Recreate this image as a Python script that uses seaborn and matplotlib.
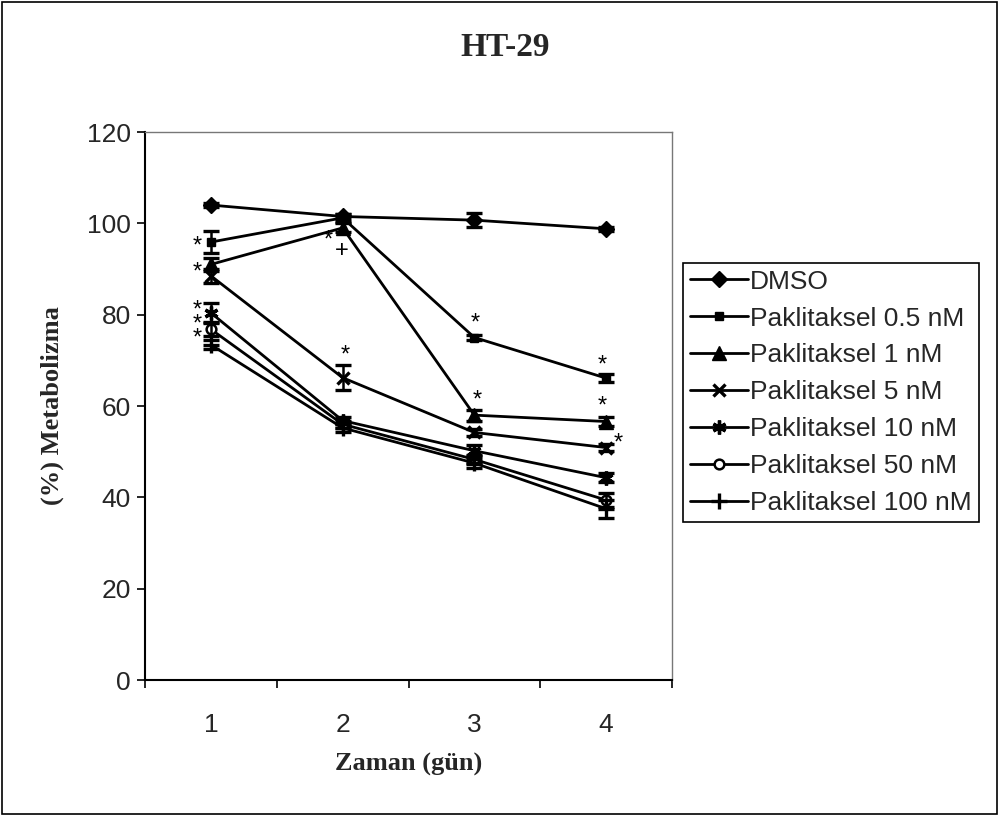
import matplotlib
matplotlib.use("Agg")
import matplotlib.pyplot as plt
import seaborn as sns
import pandas as pd
from matplotlib.patches import Rectangle
from matplotlib.ticker import FixedLocator, NullFormatter

# ---------------- data ----------------
days = [1, 2, 3, 4]
series_names = ["DMSO", "Paklitaksel 0.5 nM", "Paklitaksel 1 nM", "Paklitaksel 5 nM",
                "Paklitaksel 10 nM", "Paklitaksel 50 nM", "Paklitaksel 100 nM"]
dmso = [104.0, 101.5, 100.7, 98.8]
p05 = [95.9, 101.2, 75.0, 66.1]
p1 = [91.0, 99.0, 58.0, 56.6]
p5 = [88.5, 66.2, 54.2, 50.9]
p10 = [80.4, 56.8, 50.2, 44.3]
p50 = [76.8, 56.0, 48.3, 39.4]
p100 = [73.4, 55.2, 47.5, 37.5]

err_dmso = [0.5, 0.5, 1.5, 0.5]
err_p05 = [2.5, 0.8, 0.5, 0.8]
err_p1 = [1.5, 1.0, 1.2, 1.0]
err_p5 = [1.5, 2.7, 0.8, 0.8]
err_p10 = [2.2, 0.8, 1.2, 1.0]
err_p50 = [1.5, 0.8, 1.0, 1.5]
err_p100 = [1.0, 0.8, 1.0, 2.0]

sig_x = [0.90, 0.90, 0.90, 0.90, 0.90, 1.89, 1.99, 2.02, 3.01, 3.02, 3.97, 3.97, 4.09]
sig_y = [95.0, 89.3, 80.8, 77.8, 74.8, 96.2, 94.0, 71.0, 78.0, 61.2, 68.8, 59.8, 51.7]
sig_txt = ["*", "*", "*", "*", "*", "*", "+", "*", "*", "*", "*", "*", "*"]

x_label = "Zaman (gün)"
y_label = "(%) Metabolizma"
title = "HT-29"
y_ticks = [0, 20, 40, 60, 80, 100, 120]

values = [dmso, p05, p1, p5, p10, p50, p100]
errors = [err_dmso, err_p05, err_p1, err_p5, err_p10, err_p50, err_p100]

rows = []
for name, vals, errs in zip(series_names, values, errors):
    for d, v, e in zip(days, vals, errs):
        rows.append({"day": d, "value": v, "err": e, "series": name})
df = pd.DataFrame(rows)

# ---------------- style ----------------
sns.set_theme(style="white")
plt.rcParams["font.family"] = ["Liberation Sans", "DejaVu Sans"]

markers = {
    "DMSO": "D",
    "Paklitaksel 0.5 nM": "s",
    "Paklitaksel 1 nM": "^",
    "Paklitaksel 5 nM": "x",
    "Paklitaksel 10 nM": (6, 2, 0),
    "Paklitaksel 50 nM": "o",
    "Paklitaksel 100 nM": "+",
}
msizes = {"DMSO": 11, "Paklitaksel 0.5 nM": 8, "Paklitaksel 1 nM": 12,
          "Paklitaksel 5 nM": 11, "Paklitaksel 10 nM": 12, "Paklitaksel 50 nM": 9,
          "Paklitaksel 100 nM": 13}
leg_sizes = {"DMSO": 8.5, "Paklitaksel 0.5 nM": 5.5, "Paklitaksel 1 nM": 10,
             "Paklitaksel 5 nM": 9, "Paklitaksel 10 nM": 10, "Paklitaksel 50 nM": 7,
             "Paklitaksel 100 nM": 11}

fig = plt.figure(figsize=(10.01, 8.16), dpi=100)
ax = fig.add_axes([145 / 1001, 1 - 680 / 816, 527 / 1001, 548 / 816])

for name in series_names:
    sub = df[df["series"] == name]
    if name == "Paklitaksel 50 nM":
        kw = dict(markerfacecolor="white", markeredgecolor="black", markeredgewidth=1.8)
    elif name in ("Paklitaksel 5 nM", "Paklitaksel 10 nM", "Paklitaksel 100 nM"):
        kw = dict(markeredgecolor="black", markeredgewidth=2.4)
    else:
        kw = dict(markerfacecolor="black", markeredgecolor="black", markeredgewidth=1.0)
    sns.lineplot(data=sub, x="day", y="value", color="black", marker=markers[name],
                 markersize=msizes[name], linewidth=2.1, label=name, ax=ax,
                 errorbar=None, zorder=3, **kw)

# error bars
for name in series_names:
    sub = df[df["series"] == name]
    ax.errorbar(sub["day"], sub["value"], yerr=sub["err"], fmt="none", ecolor="black",
                elinewidth=1.8, capsize=6, capthick=2.4, zorder=4)

# significance marks
for sx, sy, st in zip(sig_x, sig_y, sig_txt):
    ax.text(sx, sy, st, ha="center", va="center",
            fontsize=(17 if st == "+" else 17), color="black", zorder=5)

ax.set_xlim(0.5, 4.5)
ax.set_ylim(0, 120)
ax.set_yticks(y_ticks)
ax.set_xticks(days)
ax.xaxis.set_minor_locator(FixedLocator([0.5, 1.5, 2.5, 3.5, 4.5]))
ax.xaxis.set_minor_formatter(NullFormatter())
ax.tick_params(axis="x", which="major", length=0, pad=24, labelsize=19)
ax.tick_params(axis="x", which="minor", length=6, width=1.2, direction="out",
               bottom=True, color="black")
ax.tick_params(axis="y", which="major", length=6, width=1.2, direction="out",
               left=True, pad=4, labelsize=19, color="black")

for side in ("left", "bottom"):
    ax.spines[side].set_color("black")
    ax.spines[side].set_linewidth(1.5)
for side in ("top", "right"):
    ax.spines[side].set_color("#777777")
    ax.spines[side].set_linewidth(1.0)

ax.set_xlabel(x_label, fontsize=19, fontweight="bold", family="Liberation Serif")
ax.set_ylabel(y_label, fontsize=19, fontweight="bold", family="Liberation Serif")
ax.xaxis.set_label_coords(0.5, -73 / 548)
ax.yaxis.set_label_coords(-81 / 527, 0.5)

fig.text(505 / 1001, 1 - 48 / 816, title, ha="center", va="center",
         fontsize=24, fontweight="bold", family="Liberation Serif")

handles, labels = ax.get_legend_handles_labels()
if ax.get_legend() is not None:
    ax.get_legend().remove()
for h, name in zip(handles, labels):
    if name in leg_sizes:
        h.set_markersize(leg_sizes[name])
        h.set_linewidth(2.0)
leg = fig.legend(handles, labels, loc="upper left",
                 bbox_to_anchor=(683 / 1001, 1 - 263 / 816),
                 bbox_transform=fig.transFigure, fontsize=19, frameon=True,
                 fancybox=False, shadow=False, framealpha=1, edgecolor="black",
                 handlelength=2.2, handletextpad=0.1, labelspacing=0.49,
                 borderpad=0.25, borderaxespad=0)
leg.get_frame().set_linewidth(1.2)

fig.patches.append(Rectangle((0.002, 0.002), 0.994, 0.996, transform=fig.transFigure,
                             fill=False, edgecolor="black", linewidth=1.2))

fig.savefig("out.png", dpi=100, facecolor="white")
